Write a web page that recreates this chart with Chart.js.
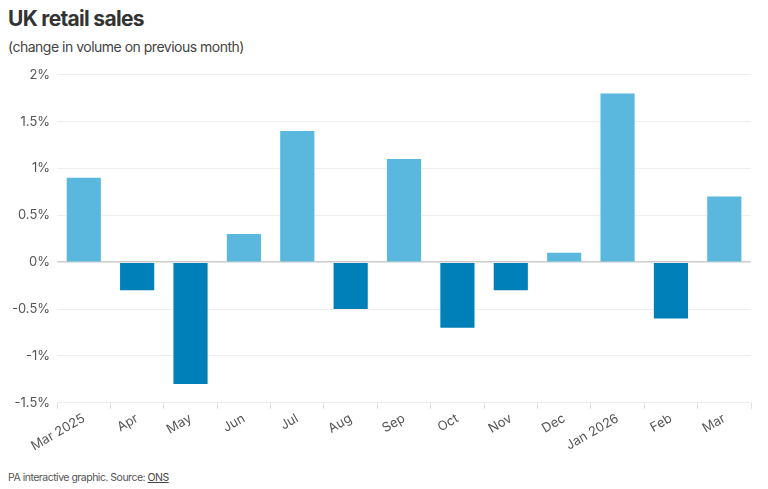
<!DOCTYPE html>
<html lang="en">
<head>
<meta charset="UTF-8">
<title>UK retail sales</title>
<script src="https://cdn.jsdelivr.net/npm/chart.js"></script>
<style>
  body { margin: 0; background: #fff; font-family: Inter, "Liberation Sans", sans-serif; }
  #wrap { position: relative; width: 768px; height: 489px; overflow: hidden; }
  #title { position: absolute; left: 8px; top: 6px; font-size: 21px; font-weight: 700; color: #333; letter-spacing: -0.7px; }
  #sub { position: absolute; left: 8px; top: 38px; font-size: 14px; color: #444; letter-spacing: -0.5px; }
  #foot { position: absolute; left: 8px; top: 471px; font-size: 10.5px; color: #555; letter-spacing: -0.5px; }
  #foot u { color: #444; }
  #box { position: absolute; left: 0; top: 60px; width: 768px; height: 396px; }
</style>
</head>
<body>
<div id="wrap">
  <div id="title">UK retail sales</div>
  <div id="sub">(change in volume on previous month)</div>
  <div id="box"><canvas id="chart"></canvas></div>
  <div id="foot">PA interactive graphic. Source: <u>ONS</u></div>
</div>
<script>
// months shown on the x axis
const months = ['Mar 2025', 'Apr', 'May', 'Jun', 'Jul', 'Aug', 'Sep', 'Oct', 'Nov', 'Dec', 'Jan 2026', 'Feb', 'Mar'];
// monthly change in volume (%)
const change = [0.9, -0.3, -1.3, 0.3, 1.4, -0.5, 1.1, -0.7, -0.3, 0.1, 1.8, -0.6, 0.7];

const upColour = '#5ab8df';
const downColour = '#0080b9';

new Chart(document.getElementById('chart'), {
  type: 'bar',
  data: {
    labels: months,
    datasets: [{
      data: change,
      backgroundColor: change.map(v => v >= 0 ? upColour : downColour),
      categoryPercentage: 0.64,
      barPercentage: 1
    }]
  },
  options: {
    responsive: true,
    maintainAspectRatio: false,
    animation: false,
    layout: { padding: { left: 5, right: 17, top: 6, bottom: 0 } },
    plugins: { legend: { display: false }, tooltip: { enabled: false } },
    scales: {
      x: {
        grid: { drawOnChartArea: false, tickLength: 6, color: '#ddd' },
        border: { display: false },
        ticks: {
          color: '#555',
          font: { family: 'Inter, "Liberation Sans", sans-serif', size: 13 },
          minRotation: 30,
          maxRotation: 30,
          padding: 2
        }
      },
      y: {
        min: -1.5,
        max: 2,
        grid: {
          color: ctx => ctx.tick.value === 0 ? '#ccc' : '#eee',
          lineWidth: ctx => ctx.tick.value === 0 ? 1.5 : 1,
          drawTicks: false
        },
        border: { display: false },
        ticks: {
          stepSize: 0.5,
          padding: 7,
          color: '#555',
          font: { family: 'Inter, "Liberation Sans", sans-serif', size: 13 },
          callback: v => v + '%'
        }
      }
    }
  }
});
</script>
</body>
</html>
